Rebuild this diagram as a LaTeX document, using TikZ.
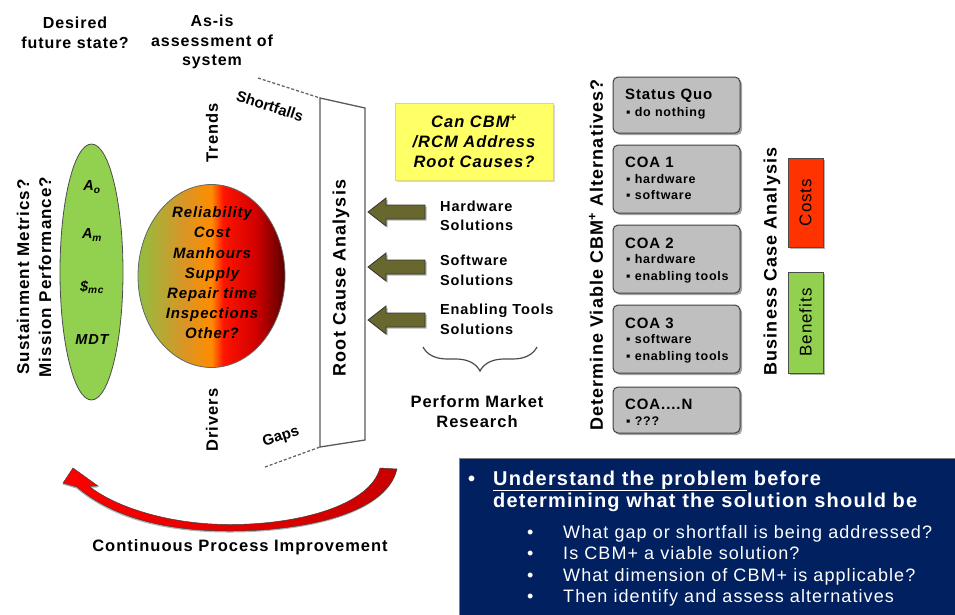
\documentclass[tikz,border=0pt]{standalone}
\usepackage{fontspec}
\setmainfont{Liberation Sans}[LetterSpace=6]
\newfontfamily\plainsans{Liberation Sans}
\usetikzlibrary{shadows,decorations.pathreplacing,shapes.geometric}
\definecolor{lgreen}{RGB}{146,208,80}
\definecolor{navy}{RGB}{0,32,96}
\definecolor{olivec}{RGB}{104,104,46}
\definecolor{coagray}{RGB}{191,191,191}
\definecolor{costred}{RGB}{255,51,0}
\definecolor{yel}{RGB}{255,255,102}
\definecolor{ybord}{RGB}{225,215,110}
\definecolor{egreen}{RGB}{145,190,65}
\definecolor{eolive}{RGB}{215,150,40}
\definecolor{eorange}{RGB}{255,140,0}
\definecolor{ered}{RGB}{255,20,0}
\definecolor{edark}{RGB}{210,0,0}
\definecolor{edarkest}{RGB}{90,0,0}
\definecolor{arrred}{RGB}{255,0,0}
\definecolor{arrdark}{RGB}{200,0,0}
\pgfdeclarehorizontalshading{ellgrad}{100bp}{color(0bp)=(egreen); color(25bp)=(egreen); color(40bp)=(eolive); color(50bp)=(eorange); color(54bp)=(ered); color(65bp)=(edark); color(75bp)=(edarkest); color(100bp)=(edarkest)}
\newcommand\fsz[2]{\fontsize{#1}{#2}\selectfont}
\begin{document}
\begin{tikzpicture}[x=1pt,y=-1pt,
  lbl/.style={inner sep=0pt, align=center, font=\fsz{16}{19.5}\bfseries},
  vlbl/.style={inner sep=0pt, align=center, rotate=90, font=\fsz{18}{22}\bfseries},
  itl/.style={inner sep=0pt, align=center, font=\fsz{15}{20.2}\bfseries\itshape},
  mlbl/.style={inner sep=0pt, font=\fsz{14.5}{16}\bfseries\itshape},
  sol/.style={inner sep=0pt, align=left, anchor=west, font=\fsz{14.5}{19.5}\bfseries},
  coabox/.style={draw=black!75, line width=1pt, fill=coagray, rounded corners=5pt, minimum width=127pt, inner sep=0pt, drop shadow={shadow xshift=2pt, shadow yshift=-2pt, fill=black!70}},
  coatitle/.style={anchor=base west, inner sep=0pt, font=\fsz{15}{17}\bfseries},
  coaitem/.style={anchor=base west, inner sep=0pt, font=\fsz{12.5}{15}\bfseries},
  olivearrow/.style={fill=olivec, draw=black!80, line width=0.8pt, drop shadow={shadow xshift=1.5pt, shadow yshift=-1.5pt, fill=black!60}},
  dashln/.style={densely dashed, draw=black!60, line width=1.3pt},
  nb/.style={anchor=base west, inner sep=0pt, text=white, font=\fsz{20}{22}\bfseries},
  ns/.style={anchor=base west, inner sep=0pt, text=white, font=\fsz{18}{20}},
  bar/.style={draw=black!70, line width=0.8pt, drop shadow={shadow xshift=2pt, shadow yshift=-2pt, fill=black!60}}
]
\useasboundingbox (0,0) rectangle (955,614);

% top labels
\node[lbl] (desired) at (75,33) {Desired\\future state?};
\node[lbl] (asis) at (212,42) {As-is\\assessment of\\system};

% metrics ellipse
\node[vlbl, font=\fsz{17}{22}\bfseries] (metq) at (34,277) {Sustainment Metrics?\\Mission Performance?};
\node[ellipse, draw=black!70, line width=0.8pt, fill=lgreen, minimum width=63pt, minimum height=256pt, inner sep=0pt] (metricell) at (91.5,272) {};
\node[mlbl] (ao) at (92,187) {A\textsubscript{o}};
\node[mlbl] (am) at (92,235) {A\textsubscript{m}};
\node[mlbl] (smc) at (92,287) {\$\textsubscript{mc}};
\node[mlbl] (mdt) at (92,340) {MDT};

% drivers ellipse
\node[ellipse, draw=black!60, line width=0.8pt, shade, shading=ellgrad, minimum width=147pt, minimum height=183pt, inner sep=0pt] (drvell) at (211.5,276) {};
\node[itl] (drvtxt) at (212,273) {Reliability\\Cost\\Manhours\\Supply\\Repair time\\Inspections\\Other?};
\node[vlbl, font=\fsz{16.5}{20}\bfseries] (trends) at (212,133) {Trends};
\node[vlbl, font=\fsz{16.5}{20}\bfseries] (drivers) at (212,420) {Drivers};

% root cause analysis
\coordinate (rtl) at (320,98);
\coordinate (rtr) at (365,108);
\coordinate (rbr) at (365,440);
\coordinate (rbl) at (320,447);
\coordinate (dtop) at (258,78);
\coordinate (dbot) at (265,467);
\draw[dashln] (dtop) -- (rtl);
\draw[dashln] (dbot) -- (rbl);
\draw[line width=1.3pt, draw=black!65] (rtl) -- (rtr) -- (rbr) -- (rbl) -- cycle;
\node[vlbl] (rca) at (341,278) {Root Cause Analysis};
\node[inner sep=0pt, font=\plainsans\fsz{15}{16}\bfseries, rotate=-18] (short) at (270,106) {Shortfalls};
\node[inner sep=0pt, font=\plainsans\fsz{15}{16}\bfseries, rotate=18] (gaps) at (281,437) {Gaps};

% CBM question
\node[fill=yel, draw=ybord, line width=1pt, minimum width=158pt, minimum height=77pt, inner sep=0pt, align=center, font=\fsz{16.5}{20}\bfseries\itshape, drop shadow={shadow xshift=1.5pt, shadow yshift=-1.5pt, fill=black!30}] (cbm) at (474,141.5) {Can CBM\textsuperscript{+}\\/RCM Address\\Root Causes?};

% solution arrows
\foreach \c in {212,267,320}{
  \draw[olivearrow] (425,\c-7) -- (386,\c-7) -- (386,\c-14) -- (368,\c) -- (386,\c+14) -- (386,\c+7) -- (425,\c+7) -- cycle;
}
\node[sol] (hw) at (440,216) {Hardware\\Solutions};
\node[sol] (sw) at (440,270.5) {Software\\Solutions};
\node[sol] (et) at (440,319.5) {Enabling Tools\\Solutions};
\coordinate (brl) at (423,347);
\coordinate (brr) at (537,347);
\draw[decorate, decoration={brace, mirror, amplitude=24pt}, draw=black!70, line width=1.2pt] (brl) -- (brr);
\node[lbl, font=\fsz{16.5}{20}\bfseries] (pmr) at (477,412) {Perform Market\\Research};

% alternatives
\node[vlbl] (det) at (596,255) {Determine Viable CBM\textsuperscript{+} Alternatives?};
\node[coabox, minimum height=56pt] (sq) at (676.5,105) {};
\node[coatitle] (sqt) at (625,99) {Status Quo};
\node[coaitem] (sqi) at (626,116.5) {▪ do nothing};
\node[coabox, minimum height=68pt] (coa1) at (676.5,179) {};
\node[coatitle] (c1t) at (625,167) {COA 1};
\node[coaitem] (c1a) at (626,183.5) {▪ hardware};
\node[coaitem] (c1b) at (626,199.5) {▪ software};
\node[coabox, minimum height=68pt] (coa2) at (676.5,259) {};
\node[coatitle] (c2t) at (625,248) {COA 2};
\node[coaitem] (c2a) at (626,263.5) {▪ hardware};
\node[coaitem] (c2b) at (626,280.5) {▪ enabling tools};
\node[coabox, minimum height=68pt] (coa3) at (676.5,339) {};
\node[coatitle] (c3t) at (625,328) {COA 3};
\node[coaitem] (c3a) at (626,343.5) {▪ software};
\node[coaitem] (c3b) at (626,360.5) {▪ enabling tools};
\node[coabox, minimum height=46pt] (coan) at (676.5,410) {};
\node[coatitle] (cnt) at (625,409) {COA....N};
\node[coaitem] (cna) at (626,425.5) {▪ ???};

% business case
\node[vlbl] (bca) at (772,261.5) {Business Case Analysis};
\node[bar, fill=costred, minimum width=35pt, minimum height=89pt, inner sep=0pt] (costs) at (805.5,202.5) {};
\node[rotate=90, inner sep=0pt, font=\fsz{17}{20}] (costst) at (costs.center) {Costs};
\node[bar, fill=lgreen, minimum width=35pt, minimum height=101pt, inner sep=0pt] (ben) at (805.5,322.5) {};
\node[rotate=90, inner sep=0pt, font=\fsz{17}{20}] (bent) at (ben.center) {Benefits};

% continuous improvement arrow
\shade[left color=arrred, right color=arrdark, draw=black!75, line width=0.5pt, drop shadow={shadow xshift=-0.5pt, shadow yshift=-1.5pt, fill=black!60}]
  (397,469) .. controls (386,515) and (300,531) .. (230,531)
  .. controls (160,531) and (110,515) .. (77,487)
  -- (63,483) -- (73,468) -- (98,486) -- (89,486)
  .. controls (112,505) and (165,524.5) .. (230,524.5)
  .. controls (300,524.5) and (370,505) .. (380,468) -- cycle;
\node[lbl, font=\fsz{16.5}{18}\bfseries] (cpi) at (240,547) {Continuous Process Improvement};

% summary box
\node[fill=navy, draw=black!50, line width=0.8pt, anchor=north west, minimum width=500pt, minimum height=160pt, inner sep=0pt] (navybox) at (459,458) {};
\node[nb] (b0) at (468,485) {•};
\node[nb] (l1) at (493,485) {\underline{Understand the problem} before};
\node[nb] (l2) at (493,507) {determining what the solution should be};
\node[ns] (s1b) at (527,538) {•};
\node[ns] (s1) at (563,538) {What gap or shortfall is being addressed?};
\node[ns] (s2b) at (527,559.5) {•};
\node[ns] (s2) at (563,559.5) {Is CBM+ a viable solution?};
\node[ns] (s3b) at (527,581) {•};
\node[ns] (s3) at (563,581) {What dimension of CBM+ is applicable?};
\node[ns] (s4b) at (527,602.5) {•};
\node[ns] (s4) at (563,602.5) {Then identify and assess alternatives};
\end{tikzpicture}
\end{document}
